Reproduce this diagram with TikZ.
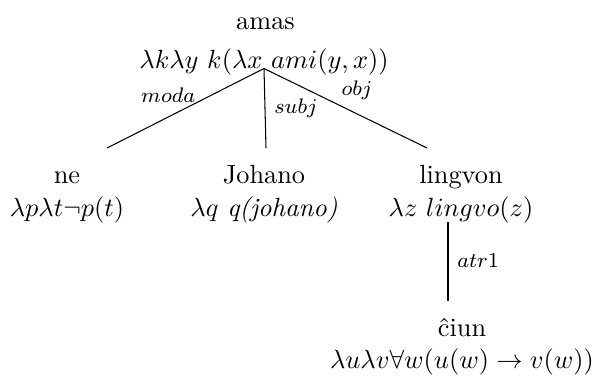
\documentclass[tikz,border=0pt]{standalone}
\usetikzlibrary{positioning}
\tikzstyle{word} = [anchor=base, inner sep=0pt]
\tikzstyle{sem} = [anchor=base, inner sep=0pt]
\tikzstyle{rel} = [font=\footnotesize]
\tikzstyle{tree} = [x=0.38pt, y=-0.38pt, thin]

\begin{document}
\begin{tikzpicture}[tree]
      \useasboundingbox (0,0) rectangle (595,378);

      % Root
      \node[word] (amas) at (265.5,29.5) {amas};
      \node[sem] (amas-sem) at (264,68.5) {$\lambda k\lambda y\ k(\lambda x\ ami(y,x))$};

      % Children
      \node[word] (ne) at (67,183) {ne};
      \node[sem] (ne-sem) at (67,216) {$\lambda p\lambda t\neg p(t)$};
      \node[word] (johano) at (264,183) {Johano};
      \node[sem] (johano-sem) at (264,216) {$\lambda q$ \textit{q(johano)}};
      \node[word] (lingvon) at (461,183) {lingvon};
      \node[sem] (lingvon-sem) at (461,216) {$\lambda z\ lingvo(z)$};
      \node[word] (ciun) at (462,336) {\^ciun};
      \node[sem] (ciun-sem) at (462,368) {$\lambda u\lambda v\forall w(u(w)\rightarrow v(w))$};

      % Edge ends
      \coordinate (ne-top) at (107,148);
      \coordinate (johano-top) at (266,148);
      \coordinate (lingvon-top) at (427,148);
      \coordinate (lingvon-foot) at (448,221.5);
      \coordinate (ciun-top) at (448,300.5);

      % Edges
      \draw (amas-sem.base) -- (ne-top) node[rel, pos=.61, above=2pt] {$moda$};
      \draw (amas-sem.base) -- (johano-top) node[rel, midway, right] {$subj$};
      \draw (amas-sem.base) -- (lingvon-top) node[rel, pos=.57, above=2pt] {$obj$};
      \draw (lingvon-foot) -- (ciun-top) node[rel, midway, right] {$atr1$};
    \end{tikzpicture}
\end{document}
